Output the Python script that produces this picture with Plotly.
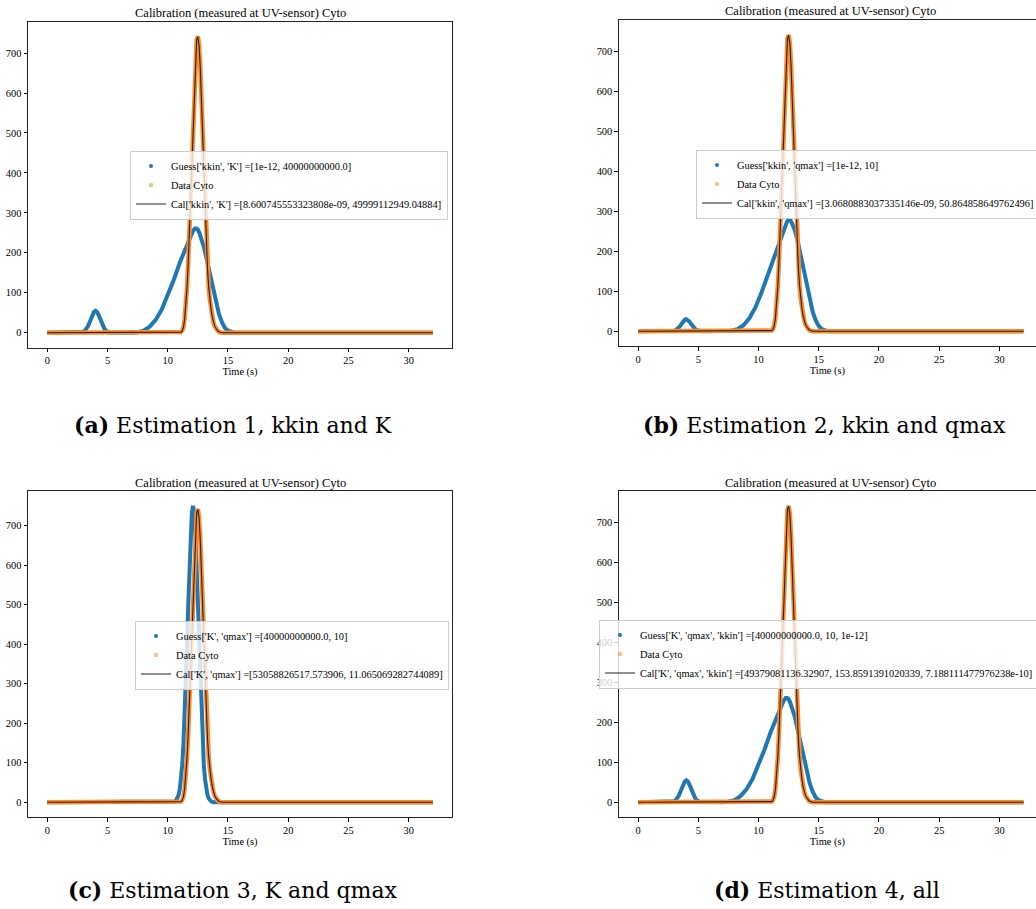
import plotly.graph_objects as go

W, H = 1036, 909

# ---------------- data ----------------
t_data = [0.0, 5.0, 10.0, 10.9, 11.0, 11.1, 11.2, 11.3, 11.4, 11.5, 11.6, 11.7, 11.8, 11.9,
          12.0, 12.1, 12.2, 12.3, 12.4, 12.5, 12.6, 12.7, 12.8, 12.9, 13.0, 13.1, 13.2, 13.3,
          13.4, 13.5, 13.6, 13.7, 13.8, 13.9, 14.0, 14.1, 14.2, 14.3, 14.4, 14.5,
          15.0, 20.0, 25.0, 30.0, 32.0]
data_cyto = [0, 0, 0, 0, 0.5, 1.5, 5, 14, 33, 65, 112, 175, 255, 345,
             440, 535, 620, 688, 732, 742, 722, 668, 588, 492, 392, 300, 222, 160,
             115, 82, 57, 38, 25, 16, 10, 6, 3, 1.5, 0.5, 0,
             0, 0, 0, 0, 0]
cal_fit = [0, 0, 0, 0, 0.4, 1.4, 4.6, 13.5, 32, 64, 111, 174, 254, 344,
           440, 536, 622, 690, 733, 741, 720, 666, 587, 492, 393, 301, 223, 161,
           116, 83, 58, 39, 26, 17, 11, 6.5, 3.5, 1.8, 0.7, 0,
           0, 0, 0, 0, 0]

t_guess_ad = [0.0, 2.5, 2.75, 2.875, 3.0, 3.125, 3.25, 3.375, 3.5, 3.625, 3.75, 3.875, 4.0,
              4.125, 4.25, 4.375, 4.5, 4.625, 4.75, 4.875, 5.0, 5.125, 5.25, 5.5,
              7.0, 7.5, 8.0, 8.5, 9.0, 9.5, 10.0, 10.5, 11.0, 11.5, 12.0, 12.125,
              12.25, 12.375, 12.5, 12.625, 12.75, 13.0, 13.25, 13.5, 13.75, 14.0, 14.25, 14.5,
              14.75, 15.0, 15.25, 15.5, 16.0, 32.0]
guess_ad = [0, 0, 0.4, 1, 2.4, 5, 9.5, 16, 25, 35, 45, 52, 55,
            52, 45, 35, 25, 16, 9.5, 5, 2.4, 1, 0.4, 0,
            0, 1, 5, 15, 32, 58, 92, 132, 175, 215, 248, 256,
            261, 261, 258, 250, 240, 215, 182, 146, 110, 76, 47, 26,
            12, 5, 1.5, 0, 0, 0]

t_guess_b = [0.0, 2.5, 2.75, 2.875, 3.0, 3.125, 3.25, 3.375, 3.5, 3.625, 3.75, 3.875, 4.0,
             4.125, 4.25, 4.375, 4.5, 4.625, 4.75, 4.875, 5.0, 5.125, 5.25, 5.5,
             7.25, 7.75, 8.25, 8.75, 9.25, 9.75, 10.25, 10.75, 11.25, 11.75, 12.25, 12.375,
             12.5, 12.625, 12.75, 13.0, 13.25, 13.5, 13.75, 14.0, 14.25, 14.5, 14.75, 15.0,
             15.25, 15.5, 15.75, 16.0, 32.0]
guess_b = [0, 0, 0.3, 0.6, 1.3, 2.7, 5.2, 8.9, 13.7, 19.3, 24.7, 28.6, 30,
           28.6, 24.7, 19.3, 13.7, 8.9, 5.2, 2.7, 1.3, 0.6, 0.3, 0,
           0, 1, 5, 15, 33, 60, 97, 140, 185, 228, 265, 275,
           280, 279, 272, 254, 226, 190, 150, 112, 77, 48, 27, 13,
           5, 1.5, 0, 0, 0]

t_guess_c = [0.0, 5.0, 10.0, 10.4, 10.5, 10.6, 10.7, 10.8, 10.9, 11.0, 11.1, 11.2, 11.3, 11.4,
             11.5, 11.6, 11.7, 11.8, 11.9, 12.0, 12.1, 12.2, 12.3, 12.4, 12.5, 12.6, 12.7,
             12.8, 12.9, 13.0, 13.1, 13.2, 13.3, 13.4, 13.5, 13.6, 13.7, 13.8,
             15.0, 20.0, 25.0, 32.0]
guess_c = [0, 0, 0, 0, 1, 2, 5, 10, 18, 33, 57, 93, 144, 212,
           296, 393, 496, 594, 676, 731, 750, 731, 676, 594, 496, 393, 296,
           212, 144, 93, 57, 33, 18, 10, 5, 2, 1, 0,
           0, 0, 0, 0]

x_ticks = [0, 5, 10, 15, 20, 25, 30]
y_ticks = [0, 100, 200, 300, 400, 500, 600, 700]

titles = ["Calibration (measured at UV-sensor) Cyto"] * 4
guess_labels = ["Guess['kkin', 'K'] =[1e-12, 40000000000.0]",
                "Guess['kkin', 'qmax'] =[1e-12, 10]",
                "Guess['K', 'qmax'] =[40000000000.0, 10]",
                "Guess['K', 'qmax', 'kkin'] =[40000000000.0, 10, 1e-12]"]
data_label = "Data Cyto"
cal_labels = ["Cal['kkin', 'K'] =[8.600745553323808e-09, 49999112949.04884]",
              "Cal['kkin', 'qmax'] =[3.0680883037335146e-09, 50.864858649762496]",
              "Cal['K', 'qmax'] =[53058826517.573906, 11.065069282744089]",
              "Cal['K', 'qmax', 'kkin'] =[49379081136.32907, 153.8591391020339, 7.188111477976238e-10]"]
captions = ["<b>(a)</b> Estimation 1, kkin and K",
            "<b>(b)</b> Estimation 2, kkin and qmax",
            "<b>(c)</b> Estimation 3, K and qmax",
            "<b>(d)</b> Estimation 4, all"]

guess_t = [t_guess_ad, t_guess_b, t_guess_c, t_guess_ad]
guess_v = [guess_ad, guess_b, guess_c, guess_ad]

# ---------------- layout geometry (pixels) ----------------
BOX_W, BOX_H = 424.0, 326.0
panels = [(28.0, 21.5), (618.8, 20.0), (28.0, 491.0), (618.8, 491.0)]   # left, top
legend_pos = [(130, 185), (696, 184), (135, 655), (599, 654)]          # left, centre y
caption_pos = [(233, 425), (824, 425), (233, 890), (827, 890)]

FONT = "Liberation Serif"
CAP_FONT = "DejaVu Serif"
BLUE = "#1f77b4"
ORANGE = "#ff8a2a"

fig = go.Figure()
layout = dict(width=W, height=H, margin=dict(l=0, r=0, t=0, b=0, autoexpand=False),
              paper_bgcolor="white", plot_bgcolor="white", showlegend=True,
              font=dict(family=FONT, size=10.4, color="black"))
annotations = []

x_lo, x_hi = min(t_data), max(t_data)
x_pad = 0.05 * (x_hi - x_lo)

for i in range(4):
    n = "" if i == 0 else str(i + 1)
    xa, ya = "x" + n, "y" + n
    leg = "legend" + n
    left, top = panels[i]
    right = left + BOX_W
    xr0, xr1 = x_lo - x_pad, x_hi + x_pad
    if right > W:
        frac = (W - left) / BOX_W
        xr1 = xr0 + (xr1 - xr0) * frac
        right_dom = 1.0
    else:
        right_dom = right / W
    ymax = max(max(data_cyto), max(cal_fit), max(guess_v[i]))
    ymin = 0.0
    ypad = 0.05 * (ymax - ymin)

    fig.add_trace(go.Scatter(x=guess_t[i], y=guess_v[i], mode="lines", xaxis=xa, yaxis=ya,
                             line=dict(color=BLUE, width=4),
                             showlegend=False, hoverinfo="skip"))
    fig.add_trace(go.Scatter(x=t_data, y=data_cyto, mode="lines", xaxis=xa, yaxis=ya,
                             line=dict(color=ORANGE, width=4.5),
                             showlegend=False, hoverinfo="skip"))
    # legend entries (markers, as in the original)
    fig.add_trace(go.Scatter(x=[None], y=[None], mode="markers", xaxis=xa, yaxis=ya,
                             marker=dict(color=BLUE, size=4), name=guess_labels[i], legend=leg))
    fig.add_trace(go.Scatter(x=[None], y=[None], mode="markers", xaxis=xa, yaxis=ya,
                             marker=dict(color="rgba(255,127,14,0.5)", size=4.5),
                             name=data_label, legend=leg))
    fig.add_trace(go.Scatter(x=t_data, y=cal_fit, mode="lines", xaxis=xa, yaxis=ya,
                             line=dict(color="#222222", width=1.1),
                             name=cal_labels[i], legend=leg, hoverinfo="skip"))

    mirror_y = right <= W
    layout["xaxis" + n] = dict(domain=[left / W, right_dom], range=[xr0, xr1], anchor=ya,
                               tickvals=x_ticks, ticks="outside", ticklen=3.5, tickwidth=0.8,
                               tickcolor="black", showline=True, linecolor="#222222", linewidth=1,
                               mirror=True, showgrid=False, zeroline=False,
                               tickfont=dict(family=FONT, size=10.4, color="black"),
                               title=dict(text="Time (s)", standoff=2,
                                          font=dict(family=FONT, size=10.4, color="black")))
    layout["yaxis" + n] = dict(domain=[1 - (top + BOX_H) / H, 1 - top / H],
                               range=[ymin - ypad, ymax + ypad], anchor=xa,
                               tickvals=y_ticks, ticks="outside", ticklen=3.5, tickwidth=0.8,
                               tickcolor="black", showline=True, linecolor="#222222", linewidth=1,
                               mirror=mirror_y, showgrid=False, zeroline=False,
                               tickfont=dict(family=FONT, size=10.4, color="black"))
    lx, ly = legend_pos[i]
    layout[leg] = dict(x=lx / W, y=1 - ly / H, xanchor="left", yanchor="middle",
                       bgcolor="rgba(255,255,255,0.8)", bordercolor="#cccccc", borderwidth=1,
                       itemwidth=30, font=dict(family=FONT, size=10.4, color="black"),
                       tracegroupgap=0)
    annotations.append(dict(text=titles[i], xref="paper", yref="paper",
                            x=(left + BOX_W / 2) / W, y=1 - (top - 8.5) / H,
                            xanchor="center", yanchor="middle", showarrow=False,
                            font=dict(family=FONT, size=12.5, color="black")))
    cx, cy = caption_pos[i]
    annotations.append(dict(text=captions[i], xref="paper", yref="paper",
                            x=cx / W, y=1 - cy / H, xanchor="center", yanchor="middle",
                            showarrow=False, font=dict(family=CAP_FONT, size=22, color="black")))

layout["annotations"] = annotations
fig.update_layout(**layout)
fig.write_html("out.html")
